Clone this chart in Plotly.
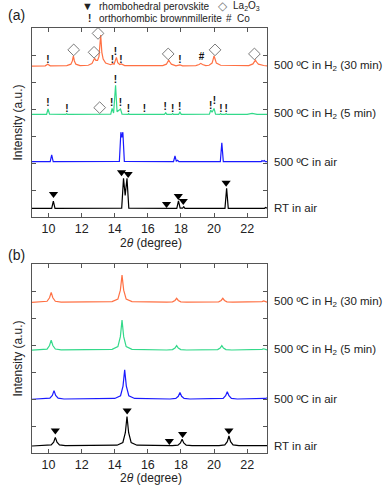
import plotly.graph_objects as go
from plotly.subplots import make_subplots

# ---------------- data: panel (a) ----------------
a_rt_x = [9.0, 10.19, 10.29, 10.39, 14.42, 14.53, 14.63, 14.74, 14.85, 17.15, 17.2, 17.25,
          17.75, 17.85, 17.95, 18.1, 18.17, 18.24, 20.66, 20.76, 20.86, 23.05, 23.12, 23.2]
a_rt_y = [0.32, 0.32, 0.59, 0.32, 0.33, 1.43, 0.80, 1.43, 0.33, 0.32, 0.34, 0.32,
          0.32, 0.60, 0.33, 0.33, 0.38, 0.32, 0.32, 1.06, 0.32, 0.32, 0.35, 0.33]

a_air_x = [9.0, 10.1, 10.19, 10.28, 14.28, 14.37, 14.43, 14.49, 14.58, 17.55, 17.64, 17.72,
           17.8, 17.88, 20.38, 20.47, 20.56, 22.85, 22.9, 22.96, 23.04, 23.1, 23.2]
a_air_y = [2.05, 2.05, 2.30, 2.05, 2.06, 3.14, 2.95, 3.14, 2.06, 2.05, 2.26, 2.07,
           2.10, 2.05, 2.05, 2.75, 2.05, 2.05, 2.09, 2.06, 2.09, 2.05, 2.05]

a_h5_x = [9.0, 9.88, 9.97, 10.06, 11.05, 11.1, 11.15, 13.76, 13.84, 13.93, 14.05, 14.14,
          14.35, 14.44, 14.8, 14.84, 14.88, 15.75, 15.8, 15.85, 17.0, 17.08, 17.15, 17.45,
          17.5, 17.55, 17.86, 17.94, 18.02, 19.72, 19.8, 19.88, 20.0, 20.09, 20.35, 20.4,
          20.45, 20.68, 20.73, 20.78, 22.0, 22.3, 22.6, 23.2]
a_h5_y = [3.80, 3.80, 4.00, 3.81, 3.80, 3.83, 3.80, 3.81, 4.02, 3.85, 4.88, 3.90,
          4.00, 3.81, 3.80, 3.83, 3.80, 3.80, 3.82, 3.80, 3.80, 3.86, 3.80, 3.80,
          3.83, 3.80, 3.80, 3.88, 3.80, 3.81, 3.96, 3.88, 4.02, 3.81, 3.80, 3.83,
          3.80, 3.80, 3.83, 3.80, 3.80, 3.84, 3.80, 3.80]

a_h30_x = [9.0, 9.8, 9.95, 10.1, 11.1, 11.35, 11.44, 11.5, 11.56, 11.65, 11.9, 12.4,
           12.62, 12.72, 12.78, 12.86, 12.96, 13.05, 13.15, 13.22, 13.3, 13.45, 13.75,
           13.88, 13.96, 14.1, 14.18, 14.3, 14.4, 14.6, 16.9, 17.12, 17.2, 17.26, 17.33,
           17.42, 17.7, 17.94, 18.1, 18.9, 19.1, 19.2, 19.3, 19.5, 19.7, 19.88, 19.95,
           20.0, 20.06, 20.14, 20.4, 22.1, 22.35, 22.44, 22.5, 22.57, 22.68, 23.0, 23.2]
a_h30_y = [5.59, 5.60, 5.66, 5.60, 5.61, 5.66, 5.78, 5.97, 5.78, 5.66, 5.61, 5.62,
           5.68, 5.80, 5.88, 5.80, 5.80, 5.95, 6.74, 6.10, 5.85, 5.70, 5.64,
           5.68, 5.66, 5.91, 5.72, 5.65, 5.67, 5.61, 5.61, 5.66, 5.74, 5.81, 5.74,
           5.66, 5.60, 5.63, 5.60, 5.61, 5.65, 5.69, 5.65, 5.61, 5.62, 5.70, 5.85,
           5.97, 5.85, 5.70, 5.62, 5.61, 5.67, 5.76, 5.81, 5.74, 5.66, 5.61, 5.60]

# ---------------- data: panel (b) ----------------
b_rt_x = [9.0, 9.81, 10.16, 10.31, 10.41, 10.51, 10.66, 11.01, 14.14, 14.49, 14.64, 14.74,
          14.84, 14.99, 15.34, 17.47, 17.82, 17.97, 18.07, 18.17, 18.32, 18.67, 20.3, 20.65,
          20.8, 20.9, 21.0, 21.15, 21.5, 23.2]
b_rt_y = [0.26, 0.27, 0.30, 0.40, 0.58, 0.40, 0.30, 0.27, 0.29, 0.39, 0.75, 1.35,
          0.75, 0.39, 0.29, 0.27, 0.29, 0.37, 0.51, 0.37, 0.29, 0.27, 0.27, 0.30,
          0.42, 0.63, 0.42, 0.30, 0.27, 0.27]

b_air_x = [9.0, 9.73, 10.08, 10.23, 10.33, 10.43, 10.58, 10.93, 14.0, 14.35, 14.5, 14.6,
           14.7, 14.85, 15.2, 17.34, 17.69, 17.84, 17.94, 18.04, 18.19, 18.54, 20.2, 20.55,
           20.7, 20.8, 20.9, 21.05, 21.4, 22.9, 23.1, 23.2]
b_air_y = [1.99, 2.00, 2.03, 2.13, 2.31, 2.13, 2.03, 2.00, 2.02, 2.12, 2.48, 3.08,
           2.48, 2.12, 2.02, 2.00, 2.02, 2.10, 2.24, 2.10, 2.02, 2.00, 2.00, 2.02,
           2.12, 2.27, 2.12, 2.02, 2.00, 2.00, 2.02, 2.04]

b_h5_x = [9.0, 9.56, 9.91, 10.06, 10.16, 10.26, 10.41, 10.76, 13.84, 14.19, 14.34, 14.44,
          14.54, 14.69, 15.04, 17.14, 17.49, 17.64, 17.74, 17.84, 17.99, 18.34, 19.87, 20.22,
          20.37, 20.47, 20.57, 20.72, 21.07, 22.7, 22.9, 23.0, 23.1, 23.2]
b_h5_y = [3.81, 3.82, 3.85, 3.98, 4.18, 3.98, 3.85, 3.82, 3.84, 3.94, 4.31, 4.92,
          4.31, 3.94, 3.84, 3.815, 3.83, 3.89, 3.98, 3.89, 3.83, 3.815, 3.815, 3.83,
          3.89, 3.98, 3.89, 3.83, 3.815, 3.815, 3.84, 3.86, 3.84, 3.82]

b_h30_x = [9.0, 9.56, 9.91, 10.06, 10.16, 10.26, 10.41, 10.76, 13.84, 14.19, 14.34, 14.44,
           14.54, 14.69, 15.04, 17.14, 17.49, 17.64, 17.74, 17.84, 17.99, 18.34, 19.93, 20.28,
           20.43, 20.53, 20.63, 20.78, 21.13, 22.7, 22.9, 23.0, 23.1, 23.2]
b_h30_y = [5.58, 5.59, 5.62, 5.75, 5.95, 5.75, 5.62, 5.59, 5.61, 5.70, 6.03, 6.59,
           6.03, 5.70, 5.61, 5.585, 5.60, 5.65, 5.73, 5.65, 5.60, 5.585, 5.585, 5.60,
           5.65, 5.73, 5.65, 5.60, 5.585, 5.59, 5.61, 5.63, 5.61, 5.59]

# ---------------- phase markers ----------------
a_tri_x = [10.30, 14.41, 14.81, 17.13, 17.84, 18.14, 20.73]
a_tri_y = [0.85, 1.66, 1.59, 0.48, 0.78, 0.59, 1.27]
b_tri_x = [10.41, 14.75, 17.3, 18.1, 20.9]
b_tri_y = [0.83, 1.57, 0.44, 0.70, 0.83]

a_dia_x = [11.52, 12.75, 12.99, 17.23, 20.06, 22.44, 13.09]
a_dia_y = [6.19, 6.10, 6.80, 6.04, 6.19, 6.04, 4.05]

a_bm_x = [9.96, 13.86, 14.04, 14.38, 17.94,
          9.96, 11.11, 13.82, 14.04, 14.35, 14.83, 15.8, 17.05, 17.5, 17.92, 19.8, 20.02, 20.41, 20.73]
a_bm_y = [5.81, 5.81, 6.11, 5.81, 5.78,
          4.19, 4.0, 4.22, 5.07, 4.22, 4.0, 4.0, 4.04, 4.0, 4.04, 4.11, 4.27, 4.0, 4.0]

a_co_x = [19.25]
a_co_y = [5.89]

labels = ["RT in air", "500 ºC in air", "500 ºC in H<sub>2</sub> (5 min)",
          "500 ºC in H<sub>2</sub> (30 min)"]
colors = ["#000000", "#1a1aff", "#33d98a", "#ff7043"]
xticks = [10, 12, 14, 16, 18, 20, 22]

FONT = "Arial, Liberation Sans, sans-serif"

fig = make_subplots(rows=2, cols=1)

panel_a = [(a_rt_x, a_rt_y), (a_air_x, a_air_y), (a_h5_x, a_h5_y), (a_h30_x, a_h30_y)]
panel_b = [(b_rt_x, b_rt_y), (b_air_x, b_air_y), (b_h5_x, b_h5_y), (b_h30_x, b_h30_y)]

for row, panel in ((1, panel_a), (2, panel_b)):
    for (xs, ys), col in zip(panel, colors):
        fig.add_trace(go.Scatter(x=xs, y=ys, mode="lines",
                                 line=dict(color=col, width=1.2),
                                 showlegend=False, hoverinfo="skip"), row=row, col=1)

# markers
fig.add_trace(go.Scatter(x=a_tri_x, y=a_tri_y, mode="markers",
                         marker=dict(symbol="triangle-down", size=8, color="black"),
                         showlegend=False), row=1, col=1)
fig.add_trace(go.Scatter(x=b_tri_x, y=b_tri_y, mode="markers",
                         marker=dict(symbol="triangle-down", size=8, color="black"),
                         showlegend=False), row=2, col=1)
fig.add_trace(go.Scatter(x=a_dia_x, y=a_dia_y, mode="markers",
                         marker=dict(symbol="diamond-open", size=9, color="#7a7a7a",
                                     line=dict(width=1)),
                         showlegend=False), row=1, col=1)
fig.add_trace(go.Scatter(x=a_bm_x, y=a_bm_y, mode="text", text=["!"] * len(a_bm_x),
                         textfont=dict(family=FONT, size=10, color="#111", weight="bold"),
                         showlegend=False), row=1, col=1)
fig.add_trace(go.Scatter(x=a_co_x, y=a_co_y, mode="text", text=["#"] * len(a_co_x),
                         textfont=dict(family=FONT, size=10, color="#111", weight="bold"),
                         showlegend=False), row=1, col=1)

# axes
top_a, bot_a, top_b, bot_b = 28, 217, 264, 453
H = 488
mt, mb = top_a, H - bot_b
ph = bot_b - top_a


def frac(py):
    return (bot_b - py) / ph


fig.update_layout(
    width=383, height=488,
    margin=dict(l=32, r=116, t=mt, b=mb),
    paper_bgcolor="white", plot_bgcolor="white",
    font=dict(family=FONT, size=12, color="#222"),
)
axis_common = dict(showline=True, linecolor="#555", linewidth=1, mirror="ticks",
                   ticks="inside", ticklen=4, tickcolor="#555", showgrid=False, zeroline=False)
for i in (1, 2):
    fig.update_xaxes(range=[9, 23.2], tickvals=xticks, tickfont=dict(size=12.5),
                     row=i, col=1, **axis_common)
    fig.update_yaxes(range=[0, 7], dtick=1, showticklabels=False, row=i, col=1, **axis_common)
fig.update_yaxes(domain=[frac(bot_a), 1.0], row=1, col=1)
fig.update_yaxes(domain=[0.0, frac(top_b)], row=2, col=1)

ann = []
# right-hand labels
for yref, panel in (("y", panel_a), ("y2", panel_b)):
    for lab, (xs, ys) in zip(labels, panel):
        ann.append(dict(text=lab, x=1.02, xref="paper", xanchor="left",
                        y=ys[0], yref=yref, yanchor="middle", showarrow=False,
                        font=dict(size=11.5, color="#222")))


def px(x):
    return (x - 32) / 235


# panel letters
for cy, t in ((15, "(a)"), (255, "(b)")):
    ann.append(dict(text=t, x=px(16.5), y=frac(cy), xref="paper", yref="paper",
                    xanchor="center", yanchor="middle", showarrow=False, font=dict(size=14)))
# axis titles
for cy in (243, 478):
    ann.append(dict(text="2<i>θ</i> (degree)", x=px(151), y=frac(cy), xref="paper", yref="paper",
                    xanchor="center", yanchor="middle", showarrow=False, font=dict(size=12)))
for cy in (122.5, 358.5):
    ann.append(dict(text="Intensity (a.u.)", x=px(17), y=frac(cy), xref="paper", yref="paper",
                    xanchor="center", yanchor="middle",
                    textangle=-90, showarrow=False, font=dict(size=12)))
# top key
key = [("▼", 87, 6, "center", 11), ("rhombohedral perovskite", 97, 6, "left", 10),
       ("◇", 223, 6, "center", 12), ("La<sub>2</sub>O<sub>3</sub>", 231, 6, "left", 10),
       ("<b>!</b>", 89, 18, "center", 10), ("orthorhombic brownmillerite", 97, 18, "left", 10),
       ("#", 229, 18, "center", 10), ("Co", 235, 18, "left", 10)]
for t, x, y, anc, fs in key:
    ann.append(dict(text=t, x=px(x), y=frac(y), xref="paper", yref="paper", xanchor=anc,
                    yanchor="middle", showarrow=False,
                    font=dict(size=fs, color="#7a7a7a" if t == "◇" else "#222")))
fig.update_layout(annotations=ann)

fig.write_html("out.html", config={"displayModeBar": False},
               post_script="document.body.style.margin='0';document.body.style.overflow='hidden';")
